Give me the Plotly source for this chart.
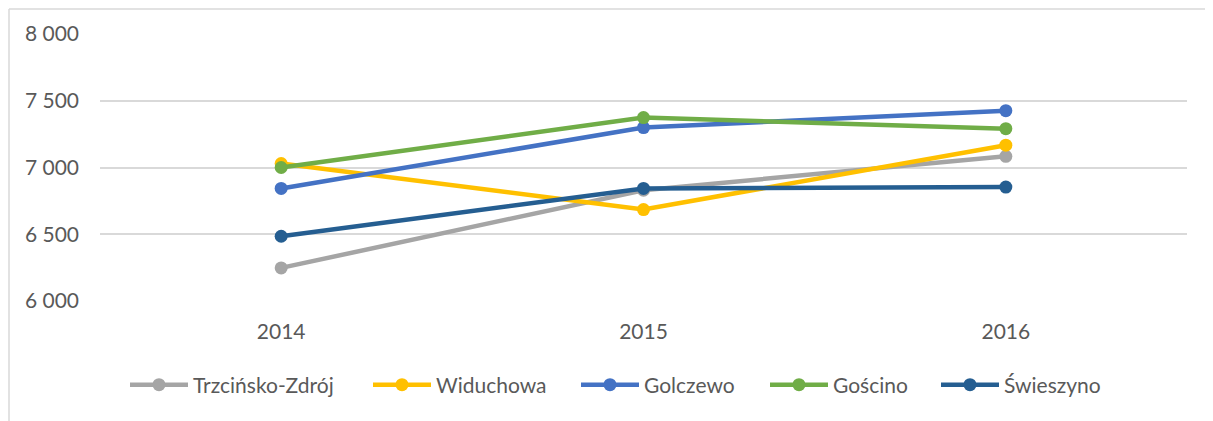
import plotly.graph_objects as go

years = ["2014", "2015", "2016"]
series_names = ["Trzcińsko-Zdrój", "Widuchowa", "Golczewo", "Gościno", "Świeszyno"]
trzcinsko = [6248, 6830, 7084]
widuchowa = [7030, 6685, 7167]
golczewo = [6843, 7299, 7426]
goscino = [7000, 7374, 7291]
swieszyno = [6485, 6843, 6853]
y_ticks = [6000, 6500, 7000, 7500, 8000]

values = [trzcinsko, widuchowa, golczewo, goscino, swieszyno]
colors = ["#A5A5A5", "#FFC000", "#4472C4", "#70AD47", "#255E91"]

# page body adds an 8px offset; compensate
OFF = 8
W, H = 1213, 421
L, T = 100 - OFF, 34 - OFF
pw, ph = 1087, 267
R = W - L - pw
B = H - T - ph

def px(x):
    return (x - OFF - L) / pw

def py(y):
    return (T + ph - (y - OFF)) / ph

FS = 21
legend_x = [131, 374, 582, 771, 942]

fig = go.Figure()
legend_layouts = {}
for i, (name, vals, c) in enumerate(zip(series_names, values, colors)):
    lname = "legend" if i == 0 else f"legend{i+1}"
    fig.add_trace(go.Scatter(
        x=years, y=vals, name=name, mode="lines+markers",
        line=dict(color=c, width=4.5),
        marker=dict(color=c, size=13),
        legend=lname,
    ))
    legend_layouts[lname] = dict(
        orientation="h", x=px(legend_x[i] - 6), xanchor="left",
        y=py(385), yanchor="middle",
        font=dict(size=FS, color="#595959"), itemwidth=58,
        bgcolor="rgba(0,0,0,0)")

fig.update_layout(
    width=W, height=H,
    margin=dict(l=L, r=R, t=T, b=B, autoexpand=False),
    paper_bgcolor="white", plot_bgcolor="white",
    separators=", ",
    font=dict(family="Lato, Open Sans, sans-serif", color="#595959", size=FS),
    showlegend=True,
    xaxis=dict(type="category", range=[-0.5, 2.5], showgrid=False, showline=False,
               zeroline=False, ticks="", ticklabelstandoff=16,
               tickfont=dict(size=FS, color="#595959")),
    yaxis=dict(range=[6000, 8000], tickvals=y_ticks, tickformat=",.0f",
               showgrid=True, gridcolor="#D9D9D9", gridwidth=1.5, zeroline=False,
               showline=False, ticks="", ticklabelstandoff=20,
               tickfont=dict(size=FS, color="#595959")),
    shapes=[
        dict(type="line", xref="paper", yref="paper",
             x0=px(9), x1=px(9), y0=py(9), y1=py(440),
             line=dict(color="#D9D9D9", width=1.5)),
        dict(type="line", xref="paper", yref="paper",
             x0=px(9), x1=px(1230), y0=py(9), y1=py(9),
             line=dict(color="#D9D9D9", width=1.5)),
    ],
    **legend_layouts,
)

fig.write_html("out.html")
